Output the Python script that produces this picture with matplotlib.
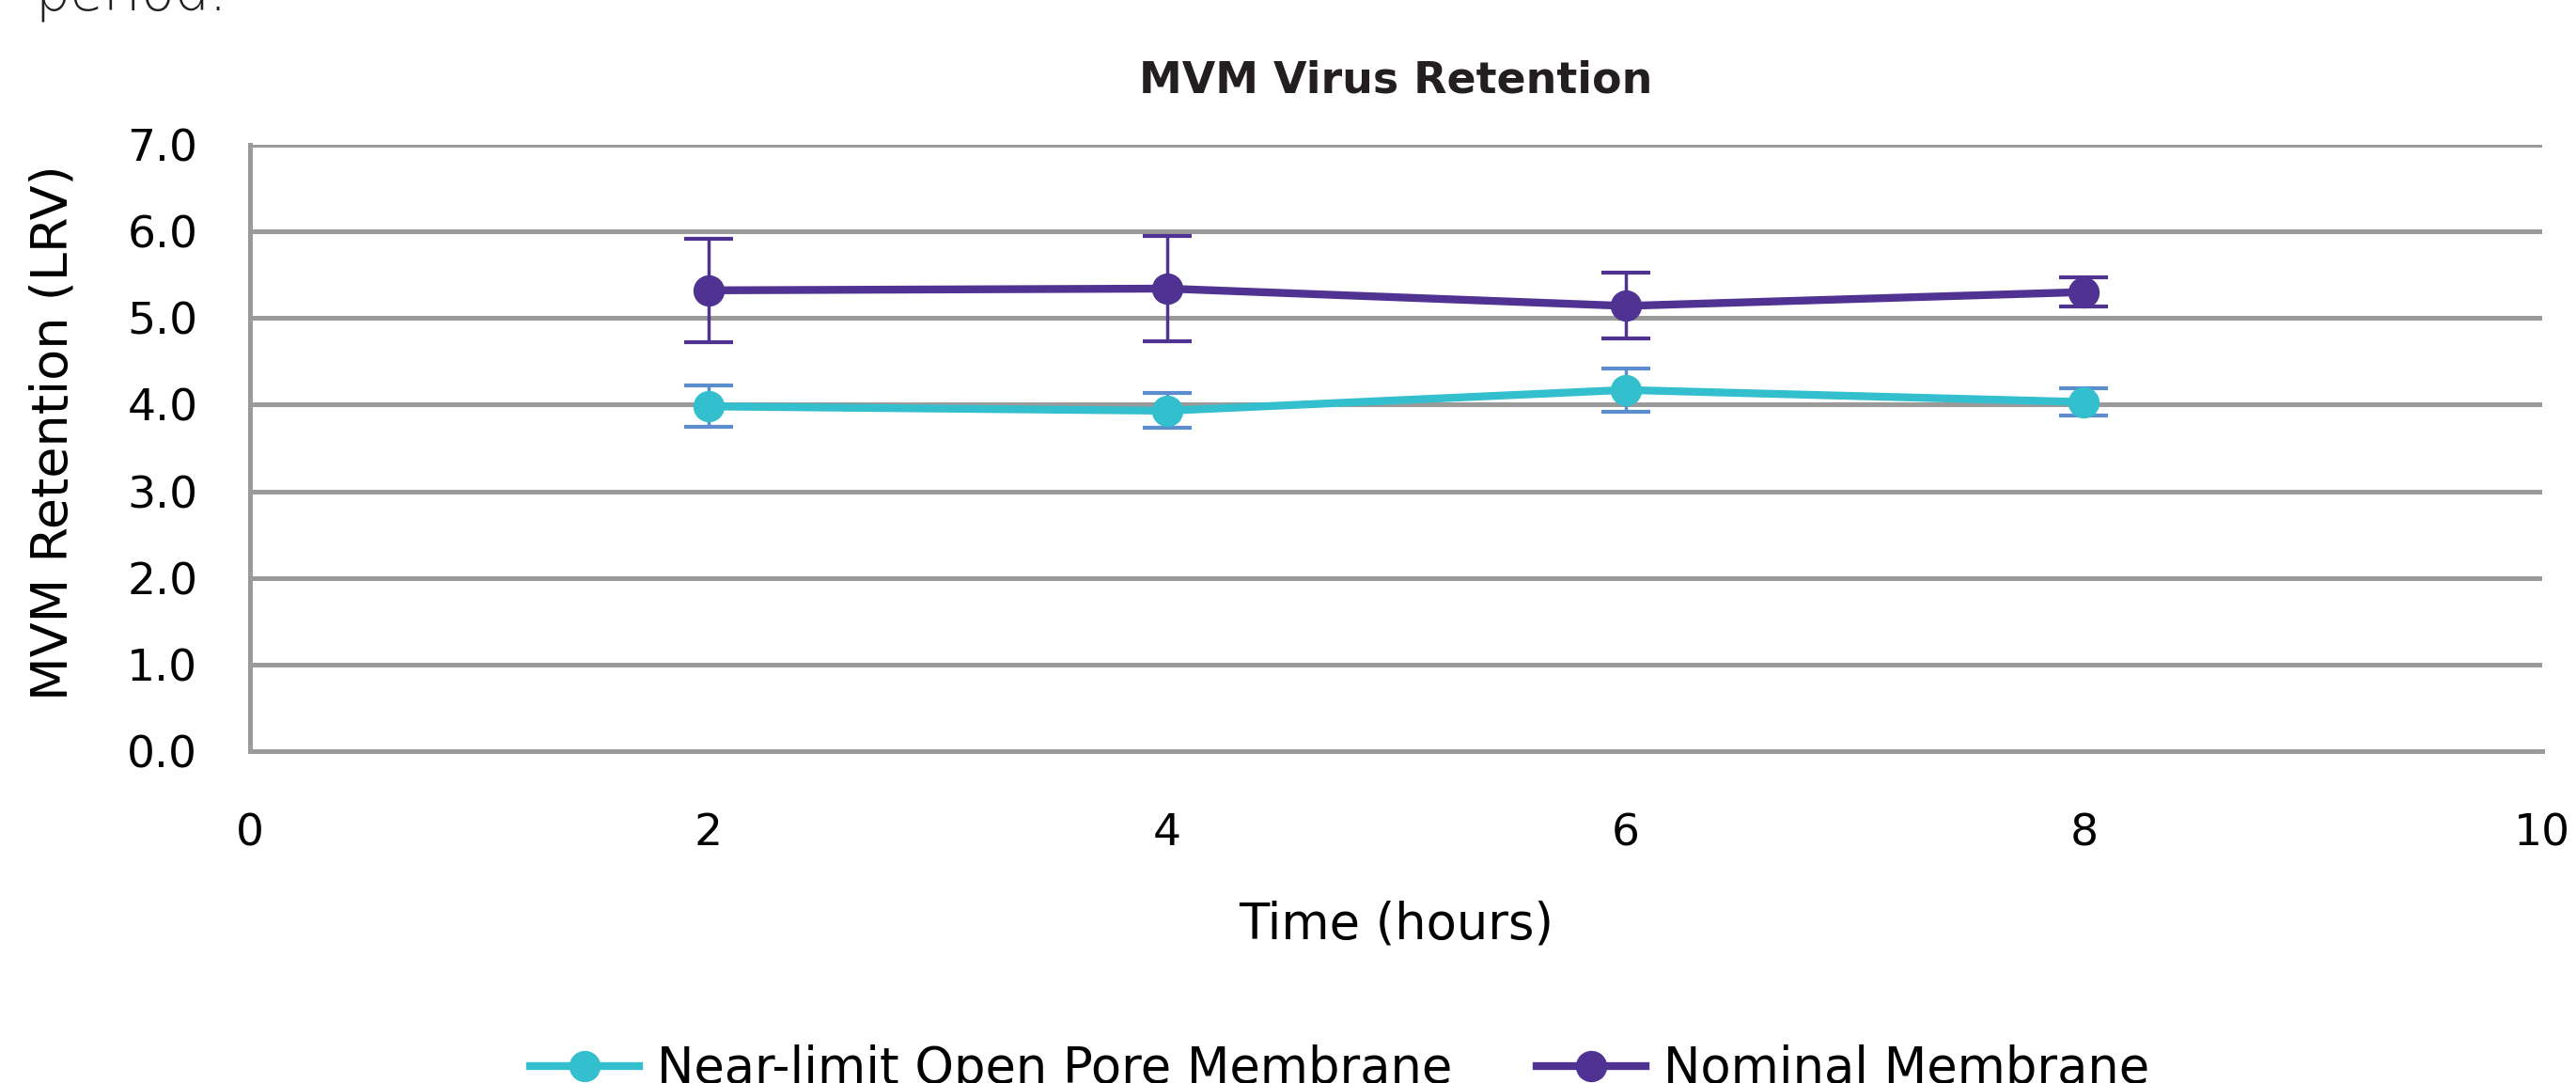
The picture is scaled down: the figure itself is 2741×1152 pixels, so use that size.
import matplotlib
matplotlib.use('Agg')
import matplotlib.pyplot as plt

# data
hours = [2, 4, 6, 8]
near_limit = [3.98, 3.93, 4.17, 4.03]
near_limit_err = [0.24, 0.20, 0.25, 0.16]
nominal = [5.32, 5.34, 5.14, 5.30]
nominal_err = [0.60, 0.61, 0.38, 0.17]
series_names = ['Near-limit Open Pore Membrane', 'Nominal Membrane']
x_ticks = [0, 2, 4, 6, 8, 10]
y_ticks = [0, 1, 2, 3, 4, 5, 6, 7]

cyan = '#33BFCE'
cyan_err = '#5B8DCF'
purple = '#4F3291'
grey = '#9A9A9A'

plt.rcParams['font.family'] = 'DejaVu Sans'

fig = plt.figure(figsize=(27.41, 11.52), dpi=100)
ax = fig.add_axes([0.097, 0.3064, 0.89, 0.5599])

ax.errorbar(hours, near_limit, yerr=near_limit_err, fmt='none', ecolor=cyan_err,
            elinewidth=2.5, capsize=19, capthick=3, zorder=3)
ax.errorbar(hours, nominal, yerr=nominal_err, fmt='none', ecolor=purple,
            elinewidth=2.5, capsize=19, capthick=3, zorder=3)
l1, = ax.plot(hours, near_limit, color=cyan, lw=6, marker='o', ms=23, zorder=4)
l2, = ax.plot(hours, nominal, color=purple, lw=6, marker='o', ms=23, zorder=4)

ax.set_xlim(0, 10)
ax.set_ylim(0, 7)
ax.set_xticks(x_ticks)
ax.set_yticks(y_ticks)
ax.set_yticklabels(['%.1f' % v for v in y_ticks])
ax.tick_params(axis='both', length=0, labelsize=34, colors='#000000')
ax.tick_params(axis='y', pad=40)
ax.tick_params(axis='x', pad=47)

ax.grid(axis='y', color=grey, lw=3.6)
ax.set_axisbelow(True)
for s in ['top', 'right']:
    ax.spines[s].set_visible(False)
for s in ['left', 'bottom']:
    ax.spines[s].set_color(grey)
    ax.spines[s].set_linewidth(3.6)

ax.set_title('MVM Virus Retention', fontsize=33, fontweight='bold', color='#231F20', pad=40)
ax.set_xlabel('Time (hours)', fontsize=38)
ax.set_ylabel('MVM Retention (LRV)', fontsize=39)
ax.xaxis.set_label_coords(0.5, -0.245)
ax.yaxis.set_label_coords(-0.075, 0.526)

fig.legend([l1, l2], series_names, loc='center', bbox_to_anchor=(0.52, 0.013),
           ncol=2, frameon=False, fontsize=38, handlelength=2.2,
           handletextpad=0.36, columnspacing=1.7)

fig.text(0.0135, 0.9913, 'period.', fontsize=42, color='#231F20', fontweight='light',
         va='baseline', ha='left')

fig.savefig('out.png', dpi=100)
